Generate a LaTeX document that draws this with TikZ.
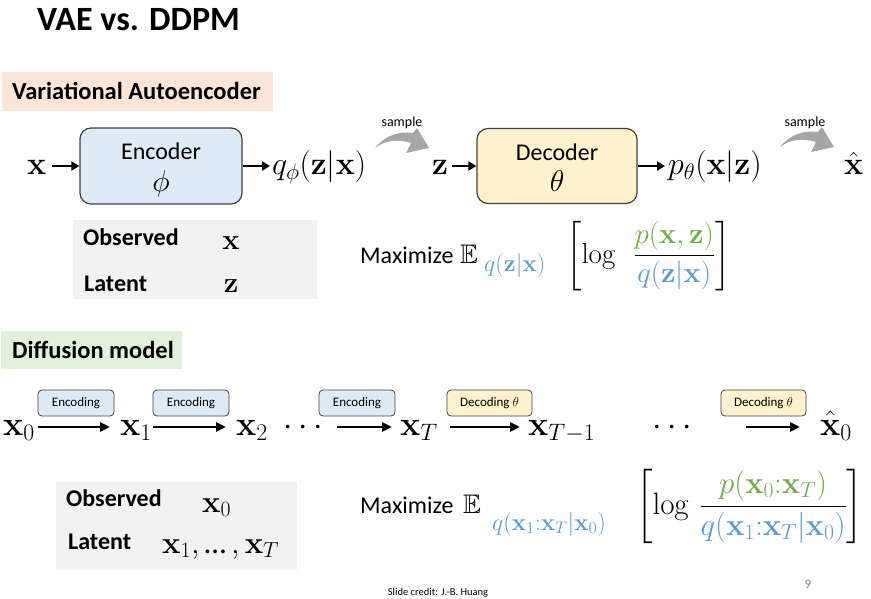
\documentclass[tikz,border=0pt]{standalone}
\usepackage{fix-cm}
\usepackage{amsmath,amssymb}
\usepackage[no-math]{fontspec}
\setmainfont{Carlito}
\usetikzlibrary{arrows.meta}
\newcommand\fsz[1]{\fontsize{#1}{#1}\selectfont}
\definecolor{peach}{HTML}{FBE5D6}
\definecolor{mint}{HTML}{E2F0D9}
\definecolor{encfill}{HTML}{DEEBF7}
\definecolor{decfill}{HTML}{FFF2CC}
\definecolor{obsgray}{HTML}{F2F2F2}
\definecolor{boxborder}{HTML}{404040}
\definecolor{samplegray}{HTML}{A6A6A6}
\definecolor{pgreen}{HTML}{70AD47}
\definecolor{qblue}{HTML}{5B9BD5}
\definecolor{pagegray}{HTML}{7F7F7F}
\tikzset{
  vararrow/.style={line width=2.2pt,-{Triangle[length=8pt,width=9pt]}},
  diffarrow/.style={line width=2.8pt,-{Triangle[length=10pt,width=9pt]}},
  procbox/.style={draw=boxborder,line width=1.2pt,rounded corners=11pt,inner sep=0pt},
  tagbox/.style={draw=boxborder,line width=0.8pt,rounded corners=4pt,inner sep=0pt,
    minimum height=26pt,font=\fsz{13}},
  mathnode/.style={inner sep=0pt,anchor=base west},
  txt/.style={inner sep=0pt,anchor=base west},
  hdr/.style={inner sep=0pt,anchor=base west,font=\bfseries\fsz{24.5}},
  samplearrow/.pic={
    \fill[samplegray] (0,0) .. controls (10,-13) and (25,-17) .. (38,-15)
      -- (42,-20) -- (54,0) -- (31,5) -- (36,-5)
      .. controls (24,-9) and (10,-8) .. (0,0) -- cycle;
  }
}
\begin{document}
\begin{tikzpicture}[x=1pt,y=-1pt]
\useasboundingbox (0,0) rectangle (871,599);
\coordinate (vrow) at (0,166);
\coordinate (drow) at (0,427);

% title
\node[txt,font=\bfseries\fsz{34}] (title) at (37,31) {VAE vs. DDPM};

% ---------- VAE ----------
\node[fill=peach,minimum width=271pt,minimum height=39pt,inner sep=0pt] (h1box) at (137.5,92) {};
\node[hdr] (h1) at (12,100) {Variational Autoencoder};

\node[mathnode,font=\fsz{32}] (vx) at (27,175) {$\mathbf{x}$};
\node[procbox,fill=encfill,minimum width=162pt,minimum height=76pt] (enc) at (161,166) {};
\node[inner sep=0pt,anchor=base,font=\fsz{24}] (encT) at (161,160) {Encoder};
\node[inner sep=0pt,anchor=base,font=\fsz{30}] (encP) at (161,192) {$\phi$};
\node[mathnode,font=\fsz{32}] (vq) at (272,175) {$q_\phi(\mathbf{z}|\mathbf{x})$};
\draw[vararrow] ([xshift=5.5pt]vx.east |- vrow) -- (enc.west);
\draw[vararrow] (enc.east) -- ([xshift=-2pt]vq.west |- vrow);

\pic at (375,148) {samplearrow};
\node[inner sep=0pt,anchor=base,font=\fsz{14}] (s1) at (402,127) {sample};

\node[mathnode,font=\fsz{32}] (vz) at (432,175) {$\mathbf{z}$};
\node[procbox,fill=decfill,minimum width=160pt,minimum height=75pt] (dec) at (557,166) {};
\node[inner sep=0pt,anchor=base,font=\fsz{24}] (decT) at (557,161) {Decoder};
\node[inner sep=0pt,anchor=base,font=\fsz{30}] (decP) at (557,192) {$\theta$};
\node[mathnode,font=\fsz{32}] (vp) at (668,175) {$p_\theta(\mathbf{x}|\mathbf{z})$};
\draw[vararrow] ([xshift=4pt]vz.east |- vrow) -- (dec.west);
\draw[vararrow] (dec.east) -- ([xshift=-3pt]vp.west |- vrow);

\pic at (780,147) {samplearrow};
\node[inner sep=0pt,anchor=base,font=\fsz{14}] (s2) at (805,127) {sample};
\node[mathnode,font=\fsz{32}] (vxh) at (844,175) {$\hat{\mathbf{x}}$};

\node[fill=obsgray,minimum width=244pt,minimum height=79pt,inner sep=0pt] (obs1) at (195,259.5) {};
\node[txt,font=\bfseries\fsz{24}] (o1) at (83,245) {Observed};
\node[inner sep=0pt,anchor=base,font=\fsz{29}] (o1v) at (231,250) {$\mathbf{x}$};
\node[txt,font=\bfseries\fsz{24}] (l1) at (84,291) {Latent};
\node[inner sep=0pt,anchor=base,font=\fsz{29}] (l1v) at (231,292) {$\mathbf{z}$};

\node[txt,font=\fsz{24}] (m1) at (360,263) {Maximize};
\node[mathnode,font=\fsz{24.88},scale=1.08] (e1) at (460,263) {$\mathbb{E}$};
\node[mathnode,font=\fsz{24},text=qblue] (es1) at (484,272) {$q(\mathbf{z}|\mathbf{x})$};
\node[mathnode,font=\fsz{29}] (f1) at (566,263)
  {$\left[\log\;\,\dfrac{\color{pgreen}p(\mathbf{x},\mathbf{z})}{\color{qblue}q(\mathbf{z}|\mathbf{x})}\right]$};

% ---------- Diffusion ----------
\node[fill=mint,minimum width=181pt,minimum height=38pt,inner sep=0pt] (h2box) at (91.5,350) {};
\node[hdr] (h2) at (12,358) {Diffusion model};

\node[mathnode,font=\fsz{34}] (d0) at (3,435) {$\mathbf{x}_0$};
\node[mathnode,font=\fsz{34}] (d1) at (120,435) {$\mathbf{x}_1$};
\node[mathnode,font=\fsz{34}] (d2) at (236,435) {$\mathbf{x}_2$};
\node[mathnode,font=\fsz{34}] (dots1) at (283,435) {$\cdots$};
\node[mathnode,font=\fsz{34}] (dT) at (400,435) {$\mathbf{x}_T$};
\node[mathnode,font=\fsz{34}] (dT1) at (528,435) {$\mathbf{x}_{T-1}$};
\node[mathnode,font=\fsz{34}] (dots2) at (652,435) {$\cdots$};
\node[mathnode,font=\fsz{34}] (dh) at (820,435) {$\hat{\mathbf{x}}_0$};

\draw[diffarrow] ([xshift=2.5pt]d0.east |- drow) -- ([xshift=-10pt]d1.west |- drow);
\draw[diffarrow] ([xshift=0.5pt]d1.east |- drow) -- ([xshift=-10pt]d2.west |- drow);
\draw[diffarrow] ([xshift=8pt]dots1.east |- drow) -- ([xshift=-8pt]dT.west |- drow);
\draw[diffarrow] ([xshift=12.5pt]dT.east |- drow) -- ([xshift=-8pt]dT1.west |- drow);
\draw[diffarrow] ([xshift=48pt]dots2.east |- drow) -- ([xshift=-20pt]dh.west |- drow);

\node[tagbox,fill=encfill,minimum width=76pt] (t1) at (76,403) {Encoding};
\node[tagbox,fill=encfill,minimum width=76pt] (t2) at (191,403) {Encoding};
\node[tagbox,fill=encfill,minimum width=76pt] (t3) at (357,403) {Encoding};
\node[tagbox,fill=decfill,minimum width=85pt] (t4) at (489.5,403) {Decoding $\theta$};
\node[tagbox,fill=decfill,minimum width=85pt] (t5) at (763.5,403) {Decoding $\theta$};

\node[fill=obsgray,minimum width=241pt,minimum height=88pt,inner sep=0pt] (obs2) at (176.5,526) {};
\node[txt,font=\bfseries\fsz{24}] (o2) at (66,506) {Observed};
\node[mathnode,font=\fsz{31}] (o2v) at (202,512) {$\mathbf{x}_0$};
\node[txt,font=\bfseries\fsz{24}] (l2) at (68,549) {Latent};
\node[mathnode,font=\fsz{31}] (l2v) at (162,553) {$\mathbf{x}_1,$\,…\,$,\mathbf{x}_T$};

\node[txt,font=\fsz{24}] (m2) at (360,513) {Maximize};
\node[mathnode,font=\fsz{24.88},scale=1.08] (e2) at (463,513) {$\mathbb{E}$};
\node[mathnode,font=\fsz{24},text=qblue] (es2) at (492,530) {$q(\mathbf{x}_1{:}\mathbf{x}_T|\mathbf{x}_0)$};
\node[mathnode,font=\fsz{31}] (f2) at (636,514)
  {$\left[\log\,\dfrac{\color{pgreen}p(\mathbf{x}_0{:}\mathbf{x}_T)}{\color{qblue}q(\mathbf{x}_1{:}\mathbf{x}_T|\mathbf{x}_0)}\right]$};

\node[inner sep=0pt,anchor=base,font=\fsz{10.5}] (credit) at (438,595) {Slide credit: J.-B. Huang};
\node[inner sep=0pt,anchor=base,font=\fsz{13},text=pagegray] (pg) at (808,588) {9};
\end{tikzpicture}
\end{document}
